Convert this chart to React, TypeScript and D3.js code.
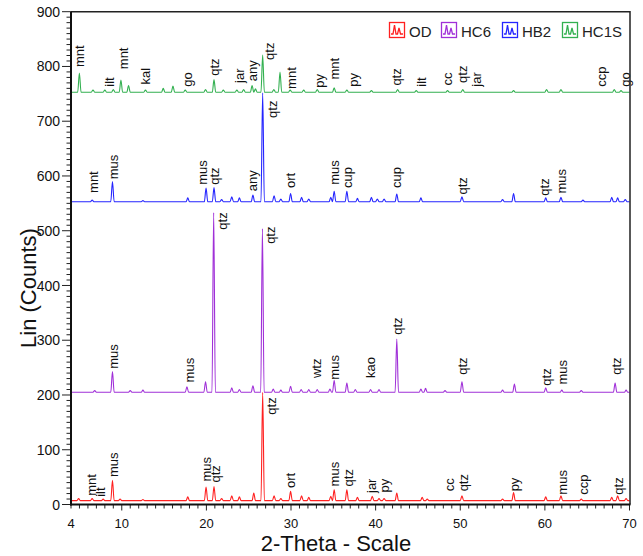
import * as d3 from 'd3';
import { useRef, useEffect } from 'react';

// series: OD, HC6, HB2, HC1S (offset XRD patterns)
const seriesNames = ['OD', 'HC6', 'HB2', 'HC1S'];
const seriesColors = ['#ff2020', '#a030d8', '#2424ff', '#33b050'];
const baselines = [7, 205, 553, 753];

// peaks: [2-theta, height above baseline in counts]
const odPeaks = [
  [4.9, 4], [6.5, 4], [7.8, 3], [8.9, 37], [9.8, 3], [12.5, 2], [17.8, 7], [19.96, 25], [20.9, 26],
  [21.8, 4], [23.0, 9], [23.9, 7], [25.6, 14], [26.65, 198], [28.0, 9], [28.8, 4], [29.95, 17],
  [31.25, 9], [32.1, 6], [34.7, 8], [35.1, 20], [36.6, 20], [37.85, 6], [39.6, 8], [40.4, 4],
  [41.0, 4], [42.5, 14], [45.5, 6], [46.1, 3], [50.2, 9], [55.0, 3], [56.3, 15], [60.1, 7],
  [61.9, 9], [64.3, 3], [67.9, 6], [68.6, 9], [69.6, 4],
];
const hc6Peaks = [
  [6.8, 3], [8.9, 38], [11.0, 3], [12.5, 4], [17.7, 10], [19.9, 19], [20.86, 328], [23.0, 8],
  [23.9, 5], [25.5, 12], [26.62, 299], [27.9, 6], [28.8, 4], [29.95, 11], [31.2, 5], [32.1, 5],
  [33.1, 5], [34.6, 6], [35.1, 22], [36.6, 17], [37.6, 5], [39.4, 5], [40.4, 5], [42.5, 97],
  [45.35, 6], [45.9, 7], [48.2, 3], [50.2, 19], [55.0, 4], [56.4, 15], [60.1, 8], [62.0, 4],
  [64.3, 3], [68.3, 17], [69.6, 4],
];
const hb2Peaks = [
  [6.5, 3], [8.9, 37], [12.5, 2], [17.8, 7], [19.96, 25], [20.9, 26], [21.8, 4], [23.0, 9],
  [23.9, 7], [25.5, 12], [26.65, 199], [28.0, 11], [28.8, 5], [29.95, 15], [31.25, 8], [32.1, 5],
  [34.7, 8], [35.1, 19], [36.6, 19], [37.85, 6], [39.5, 8], [40.2, 5], [41.0, 5], [42.5, 14],
  [45.35, 7], [50.2, 9], [55.0, 4], [56.3, 15], [60.1, 7], [61.9, 8], [64.5, 3], [67.9, 8],
  [68.6, 7], [69.5, 4],
];
const hc1sPeaks = [
  [4.99, 35], [6.6, 4], [8.0, 4], [9.0, 5], [9.9, 22], [10.8, 12], [12.8, 4], [14.9, 7],
  [16.05, 11], [17.5, 4], [19.9, 5], [20.9, 23], [22.0, 4], [23.6, 4], [24.4, 5], [25.4, 12],
  [25.8, 6], [26.65, 68], [27.97, 5], [28.7, 37], [29.9, 4], [31.5, 4], [33.1, 5], [35.1, 8],
  [36.6, 4], [39.5, 3], [42.6, 5], [44.8, 3], [48.5, 3], [50.3, 5], [56.3, 3], [60.2, 5],
  [61.9, 5], [68.2, 5], [69.0, 3],
];

// phase labels: [2-theta, counts at text start, text]
const odLabels = [
  [6.45, 16, 'mnt'], [7.45, 14, 'ilt'], [9.0, 50, 'mus'], [19.96, 42, 'mus'], [21.06, 40, 'qtz'],
  [27.65, 164, 'qtz'], [29.95, 30, 'ort'], [35.1, 33, 'mus'], [36.75, 33, 'qtz'], [39.5, 21, 'jar'],
  [41.0, 22, 'py'], [48.7, 24, 'cc'], [50.4, 24, 'qtz'], [56.4, 24, 'py'], [62.1, 18, 'mus'],
  [64.6, 18, 'ccp'], [68.65, 18, 'qtz'],
];
const hc6Labels = [
  [9.0, 248, 'mus'], [18.0, 223, 'mus'], [21.85, 502, 'qtz'], [27.6, 476, 'qtz'], [33.0, 231, 'wtz'],
  [35.1, 228, 'mus'], [39.35, 231, 'kao'], [42.6, 310, 'qtz'], [50.3, 237, 'qtz'], [60.2, 217, 'qtz'],
  [62.1, 219, 'mus'], [68.45, 237, 'qtz'],
];
const hb2Labels = [
  [6.65, 569, 'mnt'], [9.0, 594, 'mus'], [19.55, 584, 'mus'], [21.0, 584, 'qtz'], [25.5, 572, 'any'],
  [27.8, 706, 'qtz'], [29.95, 578, 'ort'], [35.1, 584, 'mus'], [36.65, 578, 'cup'], [42.4, 578, 'cup'],
  [50.3, 566, 'qtz'], [60.0, 564, 'qtz'], [62.0, 568, 'mus'],
];
const hc1sLabels = [
  [4.99, 799, 'mnt'], [8.5, 763, 'ilt'], [10.2, 795, 'mnt'], [12.8, 767, 'kal'], [17.8, 763, 'go'],
  [20.9, 783, 'qtz'], [23.9, 770, 'jar'], [25.4, 773, 'any'], [27.5, 812, 'qtz'], [30.0, 759, 'mnt'],
  [33.3, 761, 'py'], [35.1, 776, 'mnt'], [37.4, 763, 'py'], [42.5, 765, 'qtz'], [45.4, 763, 'ilt'],
  [48.5, 765, 'cc'], [50.3, 770, 'qtz'], [51.9, 763, 'jar'], [66.7, 763, 'ccp'], [69.5, 763, 'go'],
];

const xTickLabels = [4, 10, 20, 30, 40, 50, 60, 70];
const yTickLabels = [0, 100, 200, 300, 400, 500, 600, 700, 800, 900];

const allPeaks = [odPeaks, hc6Peaks, hb2Peaks, hc1sPeaks];
const allLabels = [odLabels, hc6Labels, hb2Labels, hc1sLabels];

const W = 643;
const H = 556;
const FONT = 'Liberation Sans, Arial, sans-serif';

const XrdChart = () => {
  const svgRef = useRef(null);

  useEffect(() => {
    drawChart();
  }, []);

  const drawChart = () => {
    const svg = d3.select(svgRef.current);
    svg.selectAll('*').remove();

    const x = d3.scaleLinear().domain([4, 70]).range([71, 629.5]);
    const y = d3.scaleLinear().domain([0, 900]).range([504.5, 11.7]);

    // turn each peak list into a pattern trace (start, peak flanks, end)
    const halfWidth = 0.2;
    const trace = (peaks, base) => {
      const pts = [[4, base]];
      peaks.forEach(([t, h]) => {
        pts.push([t - halfWidth, base], [t, base + h], [t + halfWidth, base]);
      });
      pts.push([70, base]);
      return pts.sort((a, b) => a[0] - b[0]);
    };

    const line = d3
      .line()
      .curve(d3.curveMonotoneX)
      .x((d) => x(d[0]))
      .y((d) => y(d[1]));

    svg
      .selectAll('path.trace')
      .data(allPeaks)
      .join('path')
      .attr('class', 'trace')
      .attr('d', (p, i) => line(trace(p, baselines[i])))
      .attr('fill', 'none')
      .attr('stroke', (d, i) => seriesColors[i])
      .attr('stroke-width', 1.1)
      .attr('stroke-linejoin', 'round');

    // phase labels, rotated
    allLabels.forEach((labels) => {
      svg
        .append('g')
        .selectAll('text')
        .data(labels)
        .join('text')
        .attr('transform', (d) => `translate(${x(d[0])},${y(d[1])}) rotate(-90)`)
        .attr('dy', '0.35em')
        .attr('font-family', FONT)
        .attr('font-size', 13)
        .attr('fill', '#111')
        .text((d) => d[2]);
    });

    // frame
    svg
      .append('path')
      .attr('d', `M${x(4)},${y(900)}H${x(70) + 0.5}V${y(0)}`)
      .attr('fill', 'none')
      .attr('stroke', '#222')
      .attr('stroke-width', 1.5);

    // y axis
    const yAxis = svg.append('g');
    yAxis
      .selectAll('line.minor')
      .data(d3.range(0, 901, 10))
      .join('line')
      .attr('x1', 71)
      .attr('x2', (d) => (d % 100 === 0 ? 62 : 66.5))
      .attr('y1', (d) => y(d))
      .attr('y2', (d) => y(d))
      .attr('stroke', '#222')
      .attr('stroke-width', 1);
    yAxis
      .selectAll('text')
      .data(yTickLabels)
      .join('text')
      .attr('x', 60)
      .attr('y', (d) => y(d))
      .attr('dy', '0.36em')
      .attr('text-anchor', 'end')
      .attr('font-family', FONT)
      .attr('font-size', 14)
      .attr('fill', '#111')
      .text((d) => d);
    yAxis
      .append('line')
      .attr('x1', 71)
      .attr('x2', 71)
      .attr('y1', y(900))
      .attr('y2', y(0) + 1)
      .attr('stroke', '#111')
      .attr('stroke-width', 2);

    // x axis
    const xAxis = svg.append('g');
    xAxis
      .selectAll('line')
      .data(d3.range(4, 71, 1))
      .join('line')
      .attr('x1', (d) => x(d))
      .attr('x2', (d) => x(d))
      .attr('y1', y(0))
      .attr('y2', (d) => (d % 10 === 0 ? y(0) + 6 : y(0) + 4))
      .attr('stroke', '#222')
      .attr('stroke-width', 1);
    xAxis
      .selectAll('text')
      .data(xTickLabels)
      .join('text')
      .attr('x', (d) => x(d))
      .attr('y', 528)
      .attr('text-anchor', 'middle')
      .attr('font-family', FONT)
      .attr('font-size', 13)
      .attr('fill', '#111')
      .text((d) => d);
    xAxis
      .append('line')
      .attr('x1', 70)
      .attr('x2', x(70) + 1)
      .attr('y1', y(0))
      .attr('y2', y(0))
      .attr('stroke', '#111')
      .attr('stroke-width', 2);

    // axis titles
    svg
      .append('text')
      .attr('x', 336)
      .attr('y', 551)
      .attr('text-anchor', 'middle')
      .attr('font-family', FONT)
      .attr('font-size', 22)
      .attr('fill', '#111')
      .text('2-Theta - Scale');
    svg
      .append('text')
      .attr('transform', 'translate(36,288) rotate(-90)')
      .attr('text-anchor', 'middle')
      .attr('font-family', FONT)
      .attr('font-size', 22)
      .attr('fill', '#111')
      .text('Lin (Counts)');

    // legend
    const legendX = [389, 441, 502, 562];
    const legend = svg
      .selectAll('g.legend')
      .data(seriesNames)
      .join('g')
      .attr('class', 'legend')
      .attr('transform', (d, i) => `translate(${legendX[i]},22)`);
    legend
      .append('rect')
      .attr('x', 0.5)
      .attr('y', 0.5)
      .attr('width', 15)
      .attr('height', 15)
      .attr('fill', 'white')
      .attr('stroke', (d, i) => seriesColors[i])
      .attr('stroke-width', 1.3);
    legend
      .append('path')
      .attr('d', 'M2,12H4L5.5,3L7,12H8.5L10,6L11.5,12H14')
      .attr('fill', 'none')
      .attr('stroke', (d, i) => seriesColors[i])
      .attr('stroke-width', 1.3);
    legend
      .append('text')
      .attr('x', 20)
      .attr('y', 14.5)
      .attr('font-family', FONT)
      .attr('font-size', 15)
      .attr('fill', '#222')
      .text((d) => d);
  };

  return (
    <svg
      ref={svgRef}
      width={W}
      height={H}
      style={{ position: 'absolute', left: 0, top: 0, background: 'white' }}
    />
  );
};

export default function App() {
  return <XrdChart />;
}
